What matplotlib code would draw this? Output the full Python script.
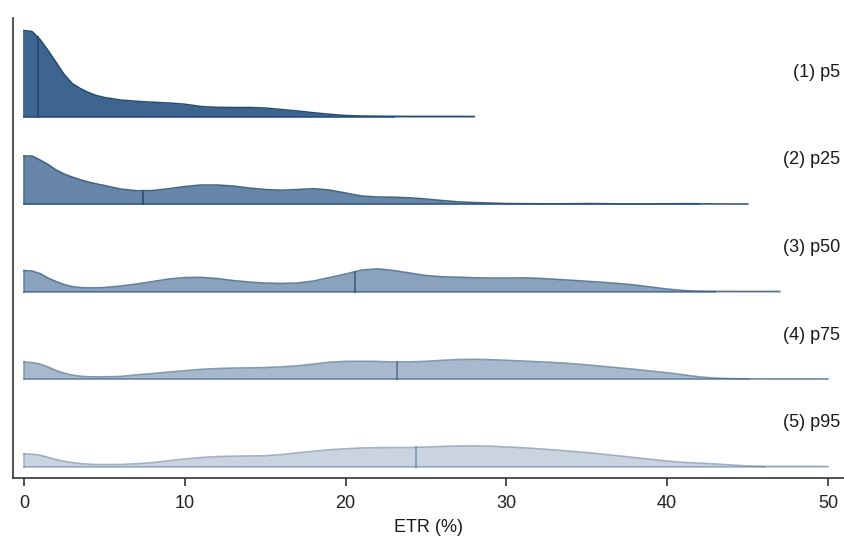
import numpy as np
import matplotlib
matplotlib.use("Agg")
import matplotlib.pyplot as plt

plt.rcParams['font.family'] = ['Liberation Sans', 'DejaVu Sans']

# ETR grid (percent): half steps near zero where the curves fall fast
etr = np.concatenate([np.arange(0, 5, 0.5), np.arange(5, 51)])

# density height of each ridge on that grid
dens_p5 = [86, 85, 77, 66, 54, 42, 33, 28, 24, 21,
           19, 16.5, 15.2, 14.3, 13.5, 12.3, 10, 9.2, 9, 9,
           8.5, 7, 5.5, 3.8, 2.2, 1, 0.5, 0.3, 0.2, 0.1, 0.1, 0.1, 0.1, 0.05]
dens_p25 = [48, 48, 44, 39.5, 34, 30, 27, 24.3, 22, 20.2,
            18.5, 15, 13.3, 13.5, 15.3, 17.5, 19, 19, 18, 16,
            14.5, 13.8, 14.5, 15.3, 14, 11, 8, 7, 6.8, 6.2, 5, 3.5, 2.2, 1.5, 1,
            0.5, 0.4, 0.2, 0.2, 0.3, 0.5, 0.4, 0.1, 0.05, 0.05, 0.2, 0.4, 0.3,
            0.1, 0.05, 0.02]
dens_p50 = [21, 20.5, 18, 13.5, 10, 7, 5, 4, 3.7, 3.7,
            4, 5.5, 7.5, 10, 12.5, 14, 14.2, 13, 11, 9.5,
            8.5, 8.1, 8.5, 10.5, 14, 17.5, 21.5, 22.7, 21, 18.5, 16, 14.8, 14.3,
            13.8, 13.5, 13.5, 13.7, 13.2, 12.3, 11.3, 10.3, 9.2, 8, 6.5, 4.5,
            2.5, 1, 0.4, 0.2, 0.1, 0.1, 0.1, 0.1]
dens_p75 = [17, 16.5, 15, 12, 8.5, 5.8, 4, 2.8, 2.3, 2.2,
            2.2, 2.6, 4.2, 5.5, 7, 8.3, 9.7, 10.5, 11, 11.2,
            11.5, 12.2, 13.2, 15, 16.8, 17.7, 17.8, 17.6, 17.1, 17.2, 17.7, 18.7,
            19.5, 19.7, 19.4, 18.8, 18, 17.3, 16.5, 15.5, 14.2, 12.7, 11.2, 9.7,
            8, 6.3, 4.3, 2.2, 0.9, 0.4, 0.2, 0.1, 0.1, 0.1, 0.1, 0.1]
dens_p95 = [12.7, 12.3, 11.3, 9.2, 7, 5.2, 4, 3, 2.4, 2.1,
            2, 2.1, 2.8, 4, 5.8, 7.5, 9, 10, 10.4, 10.6,
            10.8, 12, 13.7, 15.3, 16.8, 17.8, 18.6, 18.9, 19, 19, 19.5, 20.1,
            20.6, 20.7, 20.4, 19.6, 18.8, 17.8, 16.6, 15.3, 14, 12.4, 10.7, 9,
            7.2, 5.5, 4.2, 3.4, 2.6, 1.6, 0.6, 0.2, 0.1, 0.1, 0.1, 0.1]

medians = [0.85, 7.4, 20.6, 23.2, 24.4]
labels = ["(1) p5", "(2) p25", "(3) p50", "(4) p75", "(5) p95"]
densities = [dens_p5, dens_p25, dens_p50, dens_p75, dens_p95]

fill_alpha = [1.0, 0.78, 0.6, 0.45, 0.28]
edge_alpha = [1.0, 0.85, 0.7, 0.55, 0.42]
fill_col = "#3e6590"
edge_col = "#234a72"

step = 87.5      # vertical distance between ridges
base0 = 11.5     # baseline of the lowest ridge

fig = plt.figure(figsize=(8.45, 5.36), dpi=100)
ax = fig.add_axes([13 / 845, 58 / 536, 832 / 845, 460 / 536])

n = len(densities)
for i, (d, med, lab) in enumerate(zip(densities, medians, labels)):
    base = base0 + step * (n - 1 - i)
    d = np.asarray(d, dtype=float)
    x = etr[:len(d)]
    a = edge_alpha[i]
    ax.fill_between(x, base, base + d, color=fill_col, alpha=fill_alpha[i],
                    lw=0, zorder=2 + i)
    ax.plot(x, base + d, color=edge_col, alpha=a, lw=1.1, zorder=3 + i)
    # baseline: solid under the body, faded along the thin tail
    x_body = x[np.nonzero(d >= 0.2)[0][-1]]
    ax.plot([0, x_body], [base, base], color=edge_col, alpha=a, lw=1.1,
            zorder=3 + i)
    ax.plot([x_body, x[-1]], [base, base], color=edge_col, alpha=a * 0.45,
            lw=1.1, zorder=3 + i)
    ax.plot([0, 0], [base, base + d[0]], color=edge_col, alpha=a, lw=1.1,
            zorder=3 + i)
    hm = np.interp(med, x, d)
    ax.plot([med, med], [base, base + hm], color=edge_col, alpha=a, lw=1.3,
            zorder=3 + i)
    ax.text(50.75, base + 44, lab, ha="right", va="center", fontsize=13,
            color="#1a1a1a")

ax.set_xlim(-0.684, 51.06)
ax.set_ylim(0, 460)
ax.set_yticks([])
ax.set_xticks([0, 10, 20, 30, 40, 50])
ax.tick_params(axis="x", direction="out", length=6, width=1.1,
               colors="#222222", labelsize=13, pad=6)
for s in ["top", "right"]:
    ax.spines[s].set_visible(False)
for s in ["left", "bottom"]:
    ax.spines[s].set_color("#333333")
    ax.spines[s].set_linewidth(1.2)
ax.set_xlabel("ETR (%)", fontsize=13, color="#1a1a1a", labelpad=5)

fig.savefig("out.png", dpi=100)
